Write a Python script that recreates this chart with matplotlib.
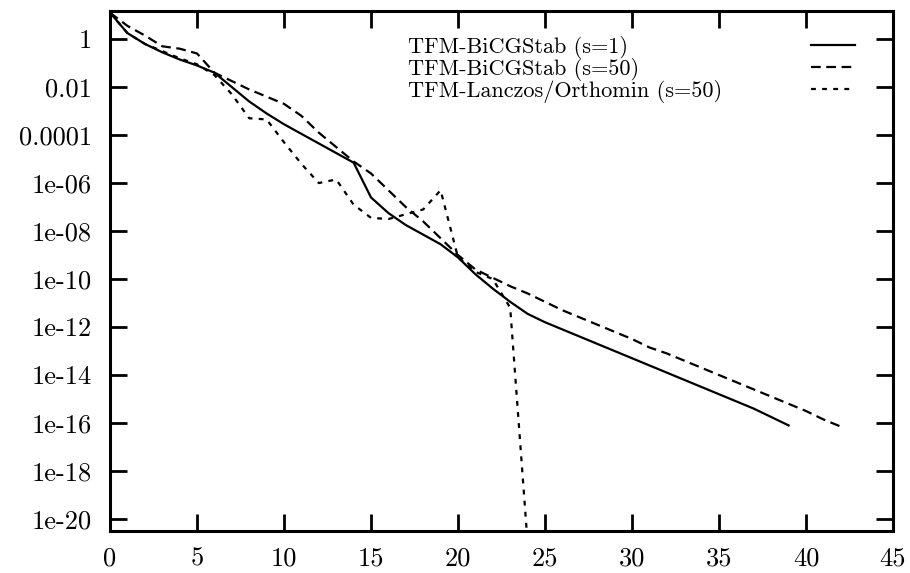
import numpy as np
import matplotlib
matplotlib.use("Agg")
import matplotlib.pyplot as plt

# residual norm (as log10) per iteration
iters_s1 = np.arange(0, 40)
bicg_s1 = [1.1, 0.25, -0.2, -0.55, -0.85, -1.1, -1.4, -2.0, -2.6, -3.1,
           -3.55, -3.95, -4.35, -4.75, -5.15, -6.6, -7.25, -7.75, -8.15, -8.55,
           -9.1, -9.8, -10.4, -10.95, -11.45, -11.8, -12.1, -12.4, -12.7, -13.0,
           -13.3, -13.6, -13.9, -14.2, -14.5, -14.8, -15.1, -15.4, -15.75, -16.1]

iters_s50 = np.arange(0, 43)
bicg_s50 = [1.1, 0.55, 0.15, -0.3, -0.4, -0.6, -1.4, -1.75, -2.1, -2.4,
            -2.7, -3.2, -3.9, -4.5, -5.1, -5.6, -6.3, -7.0, -7.6, -8.3,
            -9.0, -9.6, -9.95, -10.3, -10.6, -10.95, -11.3, -11.6, -11.9, -12.2,
            -12.5, -12.85, -13.1, -13.4, -13.7, -14.0, -14.3, -14.6, -14.9, -15.2,
            -15.5, -15.85, -16.15]

iters_lo = np.arange(0, 25)
lanczos_s50 = [1.1, 0.25, -0.2, -0.5, -0.8, -1.05, -1.5, -2.3, -3.3, -3.35,
               -4.3, -5.2, -6.0, -5.85, -6.9, -7.45, -7.5, -7.3, -7.1, -6.3,
               -9.1, -9.7, -10.0, -11.2, -21.0]

labels = ["TFM-BiCGStab (s=1)", "TFM-BiCGStab (s=50)",
          "TFM-Lanczos/Orthomin (s=50)"]

xticks = [0, 5, 10, 15, 20, 25, 30, 35, 40, 45]
yticks = [1, 0.01, 0.0001, 1e-6, 1e-8, 1e-10, 1e-12, 1e-14, 1e-16, 1e-18, 1e-20]
ytick_labels = ["1", "0.01", "0.0001", "1e-06", "1e-08", "1e-10", "1e-12",
                "1e-14", "1e-16", "1e-18", "1e-20"]

plt.rcParams['font.family'] = ['cmr10', 'DejaVu Serif']
plt.rcParams['axes.formatter.use_mathtext'] = True
plt.rcParams['lines.scale_dashes'] = False

fig = plt.figure(figsize=(9.1, 5.73), dpi=100)
ax = fig.add_axes([0.1209, 0.0733, 0.8604, 0.9075])

ax.plot(iters_s1, 10.0 ** np.array(bicg_s1), color='black', lw=1.6,
        label=labels[0])
ax.plot(iters_s50, 10.0 ** np.array(bicg_s50), color='black', lw=1.6,
        dashes=(7, 4), label=labels[1])
ax.plot(iters_lo, 10.0 ** np.array(lanczos_s50), color='black', lw=1.6,
        dashes=(3.5, 4.5), label=labels[2])

ax.set_yscale('log')
ax.set_xlim(0, 45)
ax.set_ylim(10 ** -20.5, 10 ** 1.17)
ax.set_xticks(xticks)
ax.set_xticklabels([str(t) for t in xticks])
ax.set_yticks(yticks)
ax.set_yticklabels(ytick_labels)
ax.minorticks_off()
ax.tick_params(direction='in', length=12, width=2, top=True, right=True,
               labelsize=19)
ax.tick_params(axis='y', pad=13)
ax.tick_params(axis='x', pad=11)
for s in ax.spines.values():
    s.set_linewidth(2.2)

leg = ax.legend(loc='upper right', bbox_to_anchor=(0.951, 0.952), frameon=False,
                markerfirst=False, fontsize=16, handlelength=1.95,
                handletextpad=4.0, labelspacing=-0.04, borderpad=0,
                borderaxespad=0)

# gnuplot keeps the key texts flush left; shift them after a first layout
fig.canvas.draw()
r = fig.canvas.get_renderer()
boxes = [t.get_window_extent(r) for t in leg.get_texts()]
left = min(b.x0 for b in boxes)
for t, b in zip(leg.get_texts(), boxes):
    t.set_position((left - b.x0, 0))

fig.savefig('out.png', dpi=100)
